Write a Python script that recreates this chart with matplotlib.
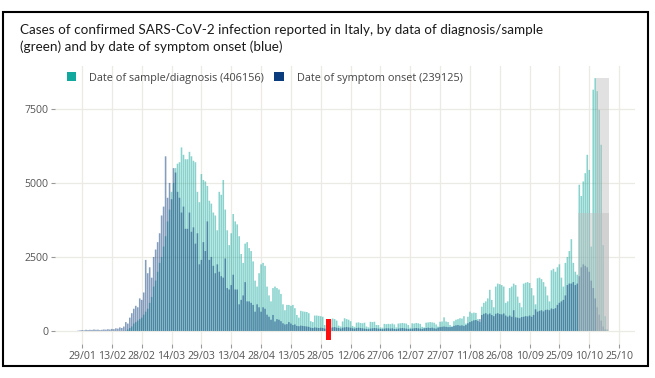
import numpy as np
import pandas as pd
import matplotlib
matplotlib.use('Agg')
import matplotlib.pyplot as plt
import matplotlib.dates as mdates
from matplotlib.patches import Rectangle, Patch

# giorni: dal 25/01/2020 al 20/10/2020
start_date = '2020-01-25'
end_date = '2020-10-20'

# casi per data di inizio sintomi (blu)
onset = (
    [0, 0, 10, 20, 30, 20, 40]  # gen
    + [30, 40, 35, 50, 40, 45, 30, 40, 50, 45, 60, 50, 70, 60, 90, 80, 120, 100, 150, 300,
       250, 450, 600, 750, 850, 800, 1100, 1050, 1300]  # feb
    + [2400, 1950, 2150, 1800, 2500, 2750, 3000, 3300, 3900, 4200, 5900, 4500, 5000, 4450, 5500,
       5350, 4700, 4500, 4000, 4200, 3450, 3450, 4000, 3350, 3500, 2950, 3300, 2250, 2400, 3000, 2700]  # mar
    + [3700, 2400, 2500, 2200, 1950, 2250, 2000, 1850, 1800, 2450, 1450, 1400, 1550, 1900, 1400,
       1400, 900, 1050, 1200, 1650, 1000, 1000, 950, 880, 650, 900, 800, 650, 800, 750]  # apr
    + [550, 480, 380, 540, 320, 400, 380, 330, 260, 220, 230, 300, 250, 200, 220, 170, 160, 180,
       170, 160, 150, 140, 110, 100, 120, 110, 100, 110, 100, 80, 70]  # mag
    + [90, 110, 120, 130, 110, 100, 80, 110, 120, 130, 120, 110, 90, 80, 100, 110, 100, 90, 80, 70,
       60, 80, 90, 100, 90, 80, 70, 60, 80, 90]  # giu
    + [90, 80, 90, 70, 60, 80, 90, 100, 90, 80, 70, 60, 80, 90, 100, 90, 80, 70, 90, 100, 110, 100,
       110, 90, 80, 110, 130, 140, 150, 140, 130]  # lug
    + [130, 140, 170, 190, 200, 180, 190, 170, 200, 260, 300, 330, 360, 370, 340, 400, 540, 580,
       600, 560, 590, 540, 500, 580, 600, 570, 560, 590, 520, 480, 520]  # ago
    + [480, 700, 460, 450, 430, 470, 480, 500, 490, 520, 480, 540, 730, 650, 680, 700, 660, 710,
       720, 700, 760, 740, 770, 880, 950, 1000, 1050, 1200, 1550, 1600]  # set
    + [1600, 1650, 1550, 1600, 1850, 2150, 2250, 2200, 2150, 2000, 1700, 1450, 1100, 800, 550,
       350, 150, 50, 10, 0]  # ott
)

# casi per data di prelievo/diagnosi (verde)
diagnosis = (
    [0, 0, 0, 0, 0, 2, 1]  # gen
    + [0, 0, 0, 0, 0, 1, 0, 0, 0, 0, 0, 0, 0, 0, 0, 0, 0, 0, 3, 10, 50, 100, 150, 250, 300, 350,
       400, 450, 550]  # feb
    + [650, 750, 950, 1150, 1500, 1700, 2000, 2300, 2500, 2850, 3200, 3700, 4100, 4700, 5000,
       5500, 5650, 5700, 6200, 5950, 5800, 5800, 6050, 5900, 5750, 5700, 4700, 4350, 5300, 5100, 5050]  # mar
    + [4900, 4400, 4300, 4000, 3900, 3400, 4700, 4600, 5100, 4100, 3400, 2900, 3300, 3950, 3700,
       3600, 3200, 2600, 2300, 2950, 3000, 2800, 2700, 2350, 1700, 1500, 1950, 2250, 2300, 2200]  # apr
    + [1500, 1200, 1000, 1450, 1500, 1450, 1400, 1250, 900, 700, 880, 880, 850, 880, 770, 540, 450,
       680, 660, 650, 640, 600, 330, 300, 520, 520, 510, 500, 480, 200, 180]  # mag
    + [180, 380, 420, 400, 350, 180, 150, 320, 430, 400, 380, 330, 170, 140, 280, 290, 270, 260,
       280, 150, 120, 310, 300, 310, 200, 200, 120, 110, 240, 230]  # giu
    + [240, 230, 250, 220, 120, 250, 260, 270, 260, 250, 200, 110, 260, 250, 270, 260, 240, 140,
       120, 280, 290, 300, 290, 280, 220, 150, 310, 320, 460, 320, 300]  # lug
    + [200, 150, 330, 380, 400, 430, 420, 500, 250, 480, 650, 600, 620, 610, 400, 300, 820, 950,
       1000, 1100, 1390, 1050, 800, 1500, 1600, 1580, 1550, 1500, 950, 1000, 1450]  # ago
    + [1500, 1600, 1550, 1160, 950, 800, 1600, 1630, 1650, 1620, 1450, 1200, 900, 1780, 1800,
       1750, 1650, 1500, 1200, 1000, 2050, 2100, 2000, 2150, 2250, 1800, 1500, 2300, 2500, 2700]  # set
    + [3100, 2300, 2000, 1900, 4940, 4560, 5050, 5330, 5950, 5440, 2850, 8150, 8540, 8100, 7470,
       6290, 2900, 500, 60, 0]  # ott
)

tick_labels = ['29/01', '13/02', '28/02', '14/03', '29/03', '13/04', '28/04', '13/05', '28/05',
               '12/06', '27/06', '12/07', '27/07', '11/08', '26/08', '10/09', '25/09', '10/10', '25/10']
y_ticks = [0, 2500, 5000, 7500]
legend_labels = ['Date of sample/diagnosis (406156)', 'Date of symptom onset (239125)']
title = ('Cases of confirmed SARS-CoV-2 infection reported in Italy, by data of diagnosis/sample\n'
         '(green) and by date of symptom onset (blue)')

# zone grigie (dati non consolidati)
shade_starts = ['2020-10-04 14:00', '2020-10-13 05:00']
shade_end = '2020-10-19 17:00'
shade_heights = [4000, 8540]

# segno rosso
marker_date = '2020-06-01'
marker_range = [-300, 400]

green = '#13A89D'
blue = '#0B3C7D'

fig = plt.figure(figsize=(6.55, 3.78), dpi=100)
ax = fig.add_axes([55 / 655, 1 - 343.6 / 378, 580 / 655, 278.1 / 378])

dates = pd.date_range(start_date, end_date)
x = mdates.date2num(dates)

ax.bar(x, diagnosis, width=0.8, color=green, alpha=0.5, linewidth=0, snap=False, zorder=2)
ax.bar(x, onset, width=0.8, color=blue, alpha=0.5, linewidth=0, snap=False, zorder=3)

x_end = mdates.date2num(pd.Timestamp(shade_end))
for s, h in zip(shade_starts, shade_heights):
    x0 = mdates.date2num(pd.Timestamp(s))
    ax.add_patch(Rectangle((x0, 0), x_end - x0, h, facecolor='#BEBEBE', alpha=0.45,
                           edgecolor='none', zorder=4))

xm = mdates.date2num(pd.Timestamp(marker_date))
ax.add_patch(Rectangle((xm - 1.2, marker_range[0]), 2.4, marker_range[1] - marker_range[0],
                       facecolor='#FF1010', edgecolor='none', zorder=6, clip_on=False))

tick_pos = mdates.date2num(pd.to_datetime([t + '/2020' for t in tick_labels], format='%d/%m/%Y'))
ax.set_xticks(tick_pos)
ax.set_xticklabels(tick_labels)
ax.set_yticks(y_ticks)
ax.set_yticklabels([str(v) for v in y_ticks])

x0 = mdates.date2num(pd.Timestamp('2020-01-29'))
ax.set_xlim(x0 - 13.6, x0 + 278)
ax.set_ylim(-427, 8967)

ax.grid(color='#EBEAE5', linewidth=0.9)
ax.set_axisbelow(True)
for sp in ax.spines.values():
    sp.set_visible(False)
ax.tick_params(length=3, width=0.8, color='#999999', labelsize=7.6, labelcolor='#555555', pad=2)
for lab in ax.get_xticklabels() + ax.get_yticklabels():
    lab.set_family('Open Sans')

handles = [Patch(facecolor=green), Patch(facecolor=blue)]
leg = ax.legend(handles, legend_labels, loc='center left', bbox_to_anchor=(0.003, 0.955), ncol=2,
                frameon=False, handlelength=0.9, handleheight=0.9, handletextpad=1.2,
                columnspacing=0.9, prop={'family': 'Open Sans', 'size': 7.85})
for t in leg.get_texts():
    t.set_color('#444444')

fig.text(20 / 655, 1 - 24.5 / 378, title, ha='left', va='top', fontsize=9.7, family='Lato',
         color='#1A1A1A', linespacing=1.4)

fig.add_artist(Rectangle((3 / 655, 1 - 366 / 378), 645 / 655, 354 / 378, transform=fig.transFigure,
                         fill=False, edgecolor='black', linewidth=1.5))

fig.savefig('out.png', dpi=100)
